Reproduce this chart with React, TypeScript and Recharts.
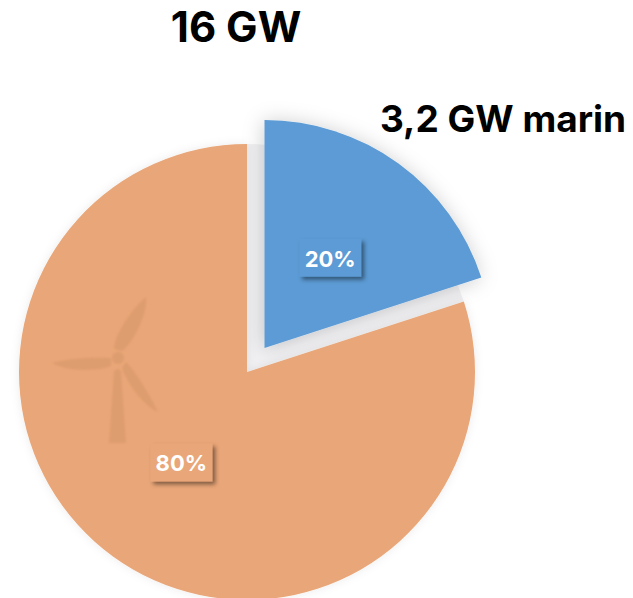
import React from "react";
import { PieChart, Pie, Sector } from "recharts";

const names = ["marin", "terrestre"];
const shares = [20, 80];
const sliceColors = ["#5B9BD5", "#E9A678"];
const totalLabel = "16 GW";
const marineLabel = "3,2 GW marin";

const chartData = names.map((name, i) => ({ name, value: shares[i], fill: sliceColors[i] }));

const FONT = "Inter, Lato, sans-serif";
const RAD = Math.PI / 180;

// blue slice is pulled out of the pie, up and to the right
const EXPLODE_X = 17.5;
const EXPLODE_Y = -24;

function Turbine() {
  return (
    <g fill="#DE9D6E" filter="url(#soften)">
      <circle cx={118} cy={358} r={6} />
      <path d="M114 349 C114 338 128 312 146 297 C148 312 134 342 122 351 Z" />
      <path d="M111 358 C95 357 68 358 52 363 C66 371 95 372 111 366 Z" />
      <path d="M126 362 C136 372 150 396 158 412 C144 406 128 385 122 368 Z" />
      <path d="M114 372 C116 368 120 368 121 372 L126 443 L109 443 Z" />
    </g>
  );
}

function SliceShape(props: any) {
  if (props.name === "marin") {
    return (
      <g>
        {/* grey shade left behind in the gap */}
        <Sector {...props} fill="#F1F1F3" stroke="none" />
        <Sector
          {...props}
          cx={props.cx + EXPLODE_X}
          cy={props.cy + EXPLODE_Y}
          stroke="none"
          filter="url(#blueShadow)"
        />
      </g>
    );
  }
  return (
    <g>
      <Sector {...props} stroke="none" filter="url(#orangeShadow)" />
      <Turbine />
    </g>
  );
}

function SliceLabel(props: any) {
  const { cx, cy, midAngle, outerRadius, percent, name, fill } = props;
  const out = name === "marin";
  const r = outerRadius * 0.49;
  const x = cx + (out ? EXPLODE_X : 0) + r * Math.cos(-midAngle * RAD);
  const y = cy + (out ? EXPLODE_Y : 0) + r * Math.sin(-midAngle * RAD);
  return (
    <g>
      <rect x={x - 31} y={y - 19} width={62} height={38} fill={fill} filter="url(#labelShadow)" />
      <text
        x={x}
        y={y + 1}
        textAnchor="middle"
        dominantBaseline="central"
        fill="#fff"
        fontFamily={FONT}
        fontWeight={700}
        fontSize={22}
      >
        {`${Math.round(percent * 100)}%`}
      </text>
    </g>
  );
}

export default function App() {
  return (
    <div style={{ position: "absolute", left: 0, top: 0, width: 633, height: 598, overflow: "hidden", background: "#fff" }}>
      <PieChart width={633} height={598} margin={{ top: 0, right: 0, bottom: 0, left: 0 }}>
        <defs>
          <filter id="blueShadow" x="-30%" y="-30%" width="160%" height="160%">
            <feDropShadow dx={-1} dy={1} stdDeviation={10} floodColor="#000" floodOpacity={0.2} />
          </filter>
          <filter id="orangeShadow" x="-10%" y="-10%" width="120%" height="120%">
            <feDropShadow dx={0} dy={0} stdDeviation={5} floodColor="#000" floodOpacity={0.08} />
          </filter>
          <filter id="labelShadow" x="-30%" y="-30%" width="160%" height="160%">
            <feDropShadow dx={3} dy={3} stdDeviation={2} floodColor="#000" floodOpacity={0.45} />
          </filter>
          <filter id="soften">
            <feGaussianBlur stdDeviation={0.8} />
          </filter>
        </defs>
        <Pie
          data={chartData}
          dataKey="value"
          nameKey="name"
          cx={247}
          cy={372}
          innerRadius={0}
          outerRadius={228}
          startAngle={90}
          endAngle={-270}
          shape={SliceShape}
          label={SliceLabel}
          labelLine={false}
          isAnimationActive={false}
        />
        <text x={236} y={42} textAnchor="middle" fontFamily={FONT} fontWeight={700} fontSize={42} fill="#000">
          {totalLabel}
        </text>
        <text x={503} y={132} textAnchor="middle" fontFamily={FONT} fontWeight={700} fontSize={37} fill="#000">
          {marineLabel}
        </text>
      </PieChart>
    </div>
  );
}
